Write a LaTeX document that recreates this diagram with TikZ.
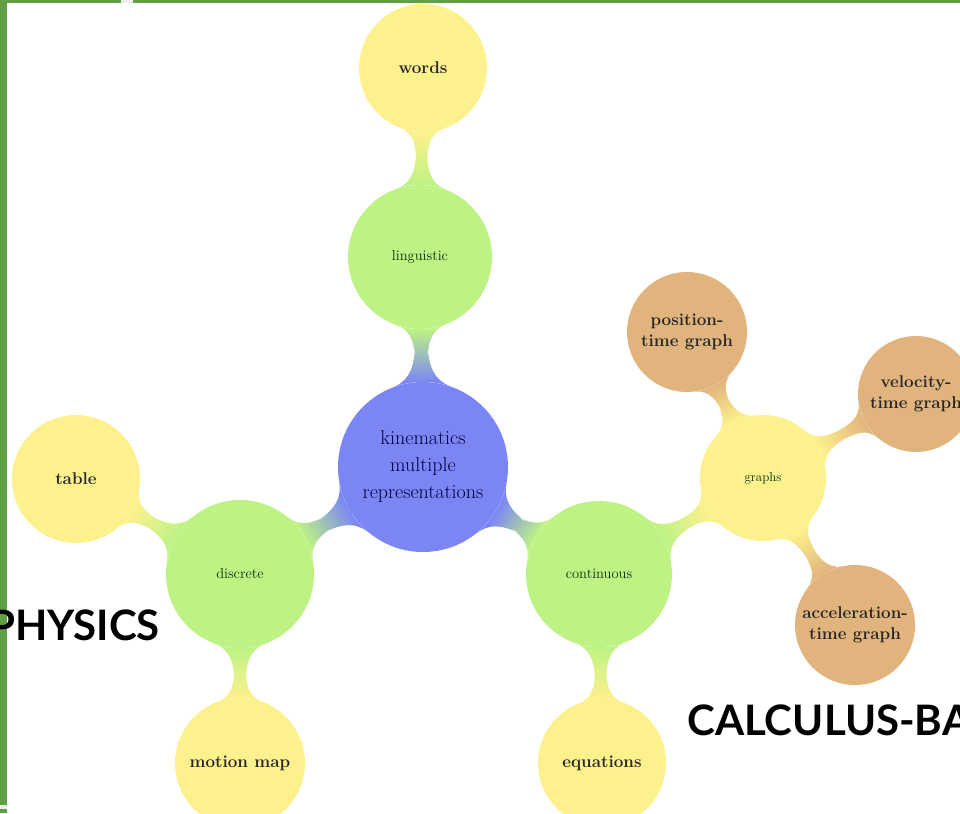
\documentclass[tikz,border=0pt]{standalone}
\usepackage{fontspec}
\newfontfamily\latofont{Lato}
\usetikzlibrary{mindmap}
\definecolor{rootblue}{RGB}{123,134,244}
\definecolor{branchgreen}{RGB}{190,242,133}
\definecolor{leafyellow}{RGB}{253,241,141}
\definecolor{leaftan}{RGB}{226,180,125}
\definecolor{framegreen}{RGB}{98,160,70}
\begin{document}
\begin{tikzpicture}[x=1pt,y=-1pt]
\tikzstyle{every node}+=[inner sep=0pt]
\tikzstyle{bubble}=[circle, align=center]
\tikzstyle{boldlabel}=[font=\bfseries\fontsize{17}{21}\selectfont, text=black!85]
\tikzstyle{thinlabel}=[font=\fontsize{14.5}{18}\selectfont, text=green!20!black]
\tikzstyle{bigword}=[font=\latofont\bfseries\fontsize{42}{42}\selectfont]
\useasboundingbox (0,0) rectangle (960,813);
\clip (0,0) rectangle (960,813);
% frame
\fill [framegreen] (0,0) rectangle (7,813);
\fill [framegreen] (0,0) rectangle (960,3);
\fill [gray!12] (121,0) rectangle (133,3);
\fill [gray!15] (0,805) rectangle (7,809);
% concepts
\node [bubble, fill=rootblue, minimum size=170pt, text=blue!25!black,
  font=\fontsize{20}{27}\selectfont] (root) at (423,467) {kinematics\\multiple\\representations};
\node [bubble, fill=branchgreen, minimum size=144pt, thinlabel] (ling) at (420,257) {linguistic};
\node [bubble, fill=branchgreen, minimum size=148pt, thinlabel] (disc) at (240,574) {discrete};
\node [bubble, fill=branchgreen, minimum size=146pt, thinlabel] (cont) at (599,574) {continuous};
\node [bubble, fill=leafyellow, minimum size=128pt, boldlabel] (words) at (423,68) {words};
\node [bubble, fill=leafyellow, minimum size=128pt, boldlabel] (table) at (76,479) {table};
\node [bubble, fill=leafyellow, minimum size=130pt, boldlabel] (mmap) at (240,763) {motion map};
\node [bubble, fill=leafyellow, minimum size=128pt, boldlabel] (eqs) at (602,763) {equations};
\node [bubble, fill=leafyellow, minimum size=126pt, thinlabel, font=\fontsize{13}{16}\selectfont] (graphs) at (763,478) {graphs};
\node [bubble, fill=leaftan, minimum size=120pt, boldlabel] (pos) at (687,332) {position-\\time graph};
\node [bubble, fill=leaftan, minimum size=116pt, boldlabel] (vel) at (916,394) {velocity-\\time graph};
\node [bubble, fill=leaftan, minimum size=120pt, boldlabel] (acc) at (855,625) {acceleration-\\time graph};
% connections
\path [line width=14pt] (root) to[circle connection bar switch color=from (rootblue) to (branchgreen)] (ling);
\path [line width=14pt] (root) to[circle connection bar switch color=from (rootblue) to (branchgreen)] (disc);
\path [line width=14pt] (root) to[circle connection bar switch color=from (rootblue) to (branchgreen)] (cont);
\path [line width=12pt] (ling) to[circle connection bar switch color=from (branchgreen) to (leafyellow)] (words);
\path [line width=12pt] (disc) to[circle connection bar switch color=from (branchgreen) to (leafyellow)] (table);
\path [line width=12pt] (disc) to[circle connection bar switch color=from (branchgreen) to (leafyellow)] (mmap);
\path [line width=12pt] (cont) to[circle connection bar switch color=from (branchgreen) to (leafyellow)] (eqs);
\path [line width=12pt] (cont) to[circle connection bar switch color=from (branchgreen) to (leafyellow)] (graphs);
\path [line width=10pt] (graphs) to[circle connection bar switch color=from (leafyellow) to (leaftan)] (pos);
\path [line width=10pt] (graphs) to[circle connection bar switch color=from (leafyellow) to (leaftan)] (vel);
\path [line width=10pt] (graphs) to[circle connection bar switch color=from (leafyellow) to (leaftan)] (acc);
% captions
\node [bigword, anchor=base east] (physics) at (160,640) {PHYSICS};
\node [bigword, anchor=base west] (calc) at (687,735) {CALCULUS-BA};
\end{tikzpicture}
\end{document}
